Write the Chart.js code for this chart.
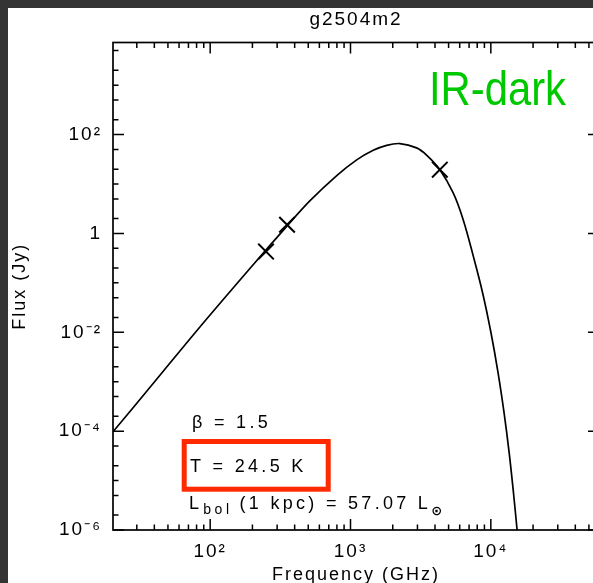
<!DOCTYPE html>
<html><head><meta charset="utf-8">
<script src="https://cdn.jsdelivr.net/npm/chart.js@4.4.1/dist/chart.umd.min.js"></script>
<style>
html,body{margin:0;padding:0;overflow:hidden;background:#343434;width:593px;height:583px;}
#wrap{position:absolute;left:8px;top:8px;width:612px;height:590px;background:#fff;}
canvas{display:block;}
</style></head><body>
<div id="wrap"><canvas id="c" width="612" height="590"></canvas></div>
<script>
// ---- data ----
const chartTitle = 'g2504m2';
const xAxisTitle = 'Frequency (GHz)';
const yAxisTitle = 'Flux (Jy)';
const fitFreqGHz = [20.3, 37.4, 80.8, 192.6, 354.9, 515, 798, 1107, 1452, 1810, 2250, 2958, 3483, 4335, 5393, 6353, 7506, 8743, 10033, 11270, 12437, 13521, 14506, 15390];
const fitFluxJy  = [9.7e-5, 7.8e-4, 0.01104, 0.198, 1.44, 4.6, 14.8, 30.8, 48.1, 60.7, 65.8, 53.8, 38.5, 19.5, 6.6, 1.9, 0.344, 0.0625, 0.00968, 1.5e-3, 2.32e-4, 3.6e-5, 5.6e-6, 1.0e-6];
const obsFreqGHz = [250, 353, 4330];
const obsFluxJy  = [0.43, 1.5, 19.5];
const xTickValues = [100, 1000, 10000];
const xTickLabels = ['10²', '10³', '10⁴'];
const xMinorTicks = [30, 40, 50, 60, 70, 80, 90, 200, 300, 400, 500, 600, 700, 800, 900, 2000, 3000, 4000, 5000, 6000, 7000, 8000, 9000, 20000, 30000, 40000, 50000];
const yTickValues = [1e-6, 1e-4, 1e-2, 1, 100];
const yTickLabels = ['10⁻⁶', '10⁻⁴', '10⁻²', '1', '10²'];
const yMinorTicks = [2e-6, 5e-6, 1e-5, 2e-5, 5e-5, 2e-4, 5e-4, 1e-3, 2e-3, 5e-3, 2e-2, 5e-2, 0.1, 0.2, 0.5, 2, 5, 10, 20, 50, 200, 500, 1000, 2000, 5000];
const annBeta = 'β = 1.5';
const annTemp = 'T = 24.5 K';
const annLumParts = ['L', 'bol', '(1 kpc) = 57.07 L', '⊙'];
const tagText = 'IR-dark';

const FONT = "'Liberation Sans', Arial, Helvetica, sans-serif";
Chart.defaults.font.family = FONT;
Chart.defaults.color = '#000';

const idlPlugin = {
  id: 'idlFrame',
  beforeDraw(chart) { chart.ctx.letterSpacing = '2px'; },
  afterDraw(chart) {
    const ctx = chart.ctx;
    const {left, right, top, bottom} = chart.chartArea;
    const xs = chart.scales.x, ys = chart.scales.y;
    ctx.save();
    ctx.letterSpacing = '0px';
    ctx.strokeStyle = '#000';
    ctx.lineWidth = 1.7;
    ctx.strokeRect(left, top, right - left, bottom - top);
    ctx.lineWidth = 1.5;
    ctx.beginPath();
    const xt = (vals, len) => vals.forEach(v => {
      const p = xs.getPixelForValue(v);
      ctx.moveTo(p, bottom); ctx.lineTo(p, bottom - len);
      ctx.moveTo(p, top); ctx.lineTo(p, top + len);
    });
    const yt = (vals, len) => vals.forEach(v => {
      const p = ys.getPixelForValue(v);
      ctx.moveTo(left, p); ctx.lineTo(left + len, p);
      ctx.moveTo(right, p); ctx.lineTo(right - len, p);
    });
    xt(xTickValues, 11); xt(xMinorTicks, 5.5);
    yt(yTickValues, 11); yt(yMinorTicks, 5.5);
    ctx.stroke();

    // annotations
    ctx.fillStyle = '#000';
    ctx.textAlign = 'left';
    ctx.textBaseline = 'alphabetic';
    ctx.letterSpacing = '3.3px';
    ctx.font = '18px ' + FONT;
    ctx.fillText(annBeta, 184, 420);
    ctx.fillText(annTemp, 182, 464);
    // L_bol line
    let x = 181;
    ctx.fillText(annLumParts[0], x, 501);
    x += ctx.measureText(annLumParts[0]).width;
    ctx.font = '14px ' + FONT; ctx.letterSpacing = '3.5px';
    ctx.fillText(annLumParts[1], x + 1, 506);
    x += ctx.measureText(annLumParts[1]).width + 8;
    ctx.font = '18px ' + FONT; ctx.letterSpacing = '3.3px';
    ctx.fillText(annLumParts[2], x, 501);
    x += ctx.measureText(annLumParts[2]).width;
    ctx.font = 'bold 13px DejaVu Sans'; ctx.letterSpacing = '0px';
    ctx.fillText(annLumParts[3], x, 507);

    // red box
    ctx.strokeStyle = '#ff2a00';
    ctx.lineWidth = 5;
    ctx.strokeRect(176.2, 433.5, 144, 47.7);

    // IR-dark tag
    ctx.fillStyle = '#00c800';
    ctx.font = '48px ' + FONT;
    ctx.letterSpacing = '0px';
    const w = ctx.measureText(tagText).width;
    ctx.translate(421, 97);
    ctx.scale(137 / w, 1);
    ctx.fillText(tagText, 0, 0);
    ctx.restore();
    ctx.letterSpacing = '0px';
  }
};

new Chart(document.getElementById('c'), {
  type: 'scatter',
  data: {
    datasets: [
      {
        data: fitFreqGHz.map((f, i) => ({x: f, y: fitFluxJy[i]})),
        showLine: true, borderColor: '#000', borderWidth: 1.7,
        pointRadius: 0, tension: 0.35, fill: false
      },
      {
        data: obsFreqGHz.map((f, i) => ({x: f, y: obsFluxJy[i]})),
        showLine: false, pointStyle: 'crossRot', pointRadius: 11,
        borderColor: '#000', pointBorderWidth: 2, backgroundColor: '#000'
      }
    ]
  },
  options: {
    responsive: false, animation: false,
    layout: {padding: {top: 0, left: 0, right: 21, bottom: 0}},
    plugins: {
      legend: {display: false}, tooltip: {enabled: false},
      title: {display: true, text: chartTitle, fullSize: false, color: '#000',
        font: {size: 19, weight: 'normal'}, padding: {top: 0, bottom: 11.7}}
    },
    scales: {
      x: {
        type: 'logarithmic', min: 20.3, max: 59000,
        afterBuildTicks: s => { s.ticks = xTickValues.map(v => ({value: v})); },
        afterFit: s => { s.height = 68; },
        grid: {display: false, drawTicks: false},
        border: {display: false},
        ticks: {autoSkip: false, maxRotation: 0, minRotation: 0, padding: 10.2,
          font: {size: 19}, color: '#000',
          callback: v => xTickLabels[xTickValues.indexOf(v)]},
        title: {display: true, text: xAxisTitle, color: '#000', font: {size: 18},
          padding: {top: 0, bottom: 12.2}}
      },
      y: {
        type: 'logarithmic', min: 1e-6, max: 7300,
        afterBuildTicks: s => { s.ticks = yTickValues.map(v => ({value: v})); },
        afterFit: s => { s.width = 105; },
        grid: {display: false, drawTicks: false},
        border: {display: false},
        ticks: {autoSkip: false, padding: 11, font: {size: 19}, color: '#000',
          callback: v => yTickLabels[yTickValues.indexOf(v)]},
        title: {display: true, text: yAxisTitle, color: '#000', font: {size: 18},
          padding: {top: 1, bottom: 0}}
      }
    }
  },
  plugins: [idlPlugin]
});
</script>
</body></html>
